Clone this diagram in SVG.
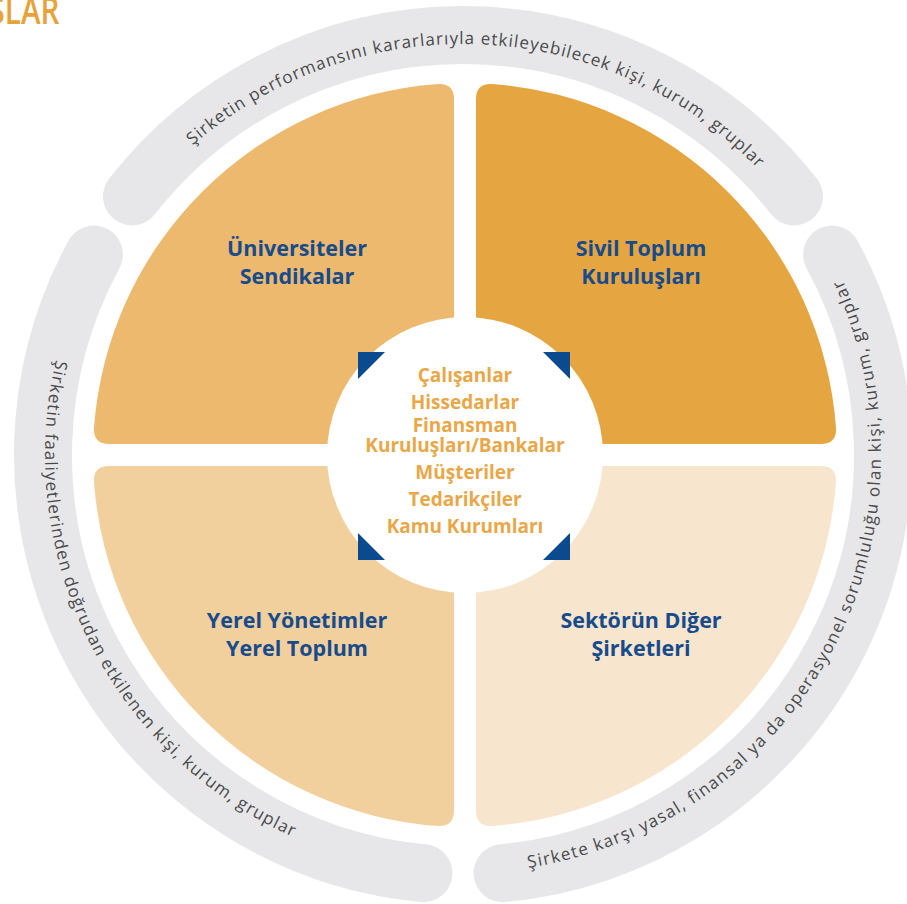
<svg xmlns="http://www.w3.org/2000/svg" xmlns:xlink="http://www.w3.org/1999/xlink" width="907" height="904" viewBox="0 0 907 904">
<style>
.band{fill:none;stroke:#e7e7e9;stroke-width:58;stroke-linecap:round}
.ring{font-family:"Open Sans","Noto Sans",sans-serif;font-size:17px;fill:#4a4a4c}
.lbl{font-family:"Open Sans","Noto Sans",sans-serif;font-size:21.5px;font-weight:700;fill:#174b8b;text-anchor:middle}
.ctr{font-family:"Open Sans","Noto Sans",sans-serif;font-size:19px;font-weight:700;fill:#e8a748;text-anchor:middle}
.tri{fill:#0b4a8e}
</style>
<defs>
<path id="tpTop" d="M76.79,314.43 A411,411 0 0 1 849.21,314.43"/>
<path id="tpLeft" d="M152.37,175.3 A418,418 0 0 0 521.17,868.93"/>
<path id="tpRight" d="M368.97,862.29 A418,418 0 0 0 748.08,149.3"/>
</defs>
<text x="-14.7" y="24" transform="scale(0.78,1)" style="font-family:'Open Sans','Noto Sans',sans-serif;font-size:38px;font-weight:600;fill:#e8a23a">ŞLAR</text>
<g id="ring-top">
<path class="band" d="M132.04,196.42 A420,420 0 0 1 793.96,196.42"/>
<text class="ring" letter-spacing="1.05"><textPath xlink:href="#tpTop" href="#tpTop" startOffset="51.7%" text-anchor="middle">Şirketin performansını kararlarıyla etkileyebilecek kişi, kurum, gruplar</textPath></text>
</g>
<g id="ring-right">
<path class="band" d="M832.1,254.6 A420,420 0 0 1 502.53,873.14"/>
<text class="ring" letter-spacing="1.3"><textPath xlink:href="#tpRight" href="#tpRight" startOffset="50%" text-anchor="middle">Şirkete karşı yasal, finansal ya da operasyonel sorumluluğu olan kişi, kurum, gruplar</textPath></text>
</g>
<g id="ring-left">
<path class="band" d="M423.47,873.14 A420,420 0 0 1 93.9,254.6"/>
<text class="ring" letter-spacing="1.12"><textPath xlink:href="#tpLeft" href="#tpLeft" startOffset="48.9%" text-anchor="middle">Şirketin faaliyetlerinden doğrudan etkilenen kişi, kurum, gruplar</textPath></text>
</g>
<g id="q-tl">
<path fill="#ecb96e" d="M454,99.16 L454,444 L109.16,444 Q93.16,444 93.98,428.02 A372,372 0 0 1 438.08,83.97 Q454,83.16 454,99.16 Z"/>
<text class="lbl" x="297" y="256">Üniversiteler</text>
<text class="lbl" x="297" y="284">Sendikalar</text>
</g>
<g id="q-tr">
<path fill="#e5a540" d="M476,99.16 L476,444 L820.84,444 Q836.84,444 836.02,428.02 A372,372 0 0 0 491.92,83.97 Q476,83.16 476,99.16 Z"/>
<text class="lbl" x="641" y="256">Sivil Toplum</text>
<text class="lbl" x="641" y="284">Kuruluşları</text>
</g>
<g id="q-bl">
<path fill="#f2d09e" d="M454,810.84 L454,466 L109.16,466 Q93.16,466 93.98,481.98 A372,372 0 0 0 438.08,826.03 Q454,826.84 454,810.84 Z"/>
<text class="lbl" x="297" y="628">Yerel Yönetimler</text>
<text class="lbl" x="297" y="656">Yerel Toplum</text>
</g>
<g id="q-br">
<path fill="#f7e6cd" d="M476,810.84 L476,466 L820.84,466 Q836.84,466 836.02,481.98 A372,372 0 0 1 491.92,826.03 Q476,826.84 476,810.84 Z"/>
<text class="lbl" x="641" y="628">Sektörün Diğer</text>
<text class="lbl" x="641" y="656">Şirketleri</text>
</g>
<g id="center">
<circle cx="465" cy="455" r="138" fill="#ffffff"/>
<polygon class="tri" points="358,352 385,352 358,379"/>
<polygon class="tri" points="543,352 570,352 570,379"/>
<polygon class="tri" points="358,533 358,560 385,560"/>
<polygon class="tri" points="570,533 570,560 543,560"/>
<text class="ctr" x="465" y="382">Çalışanlar</text>
<text class="ctr" x="465" y="409">Hissedarlar</text>
<text class="ctr" x="465" y="432">Finansman</text>
<text class="ctr" x="465" y="452">Kuruluşları/Bankalar</text>
<text class="ctr" x="465" y="479">Müşteriler</text>
<text class="ctr" x="465" y="506">Tedarikçiler</text>
<text class="ctr" x="465" y="533">Kamu Kurumları</text>
</g>
</svg>
